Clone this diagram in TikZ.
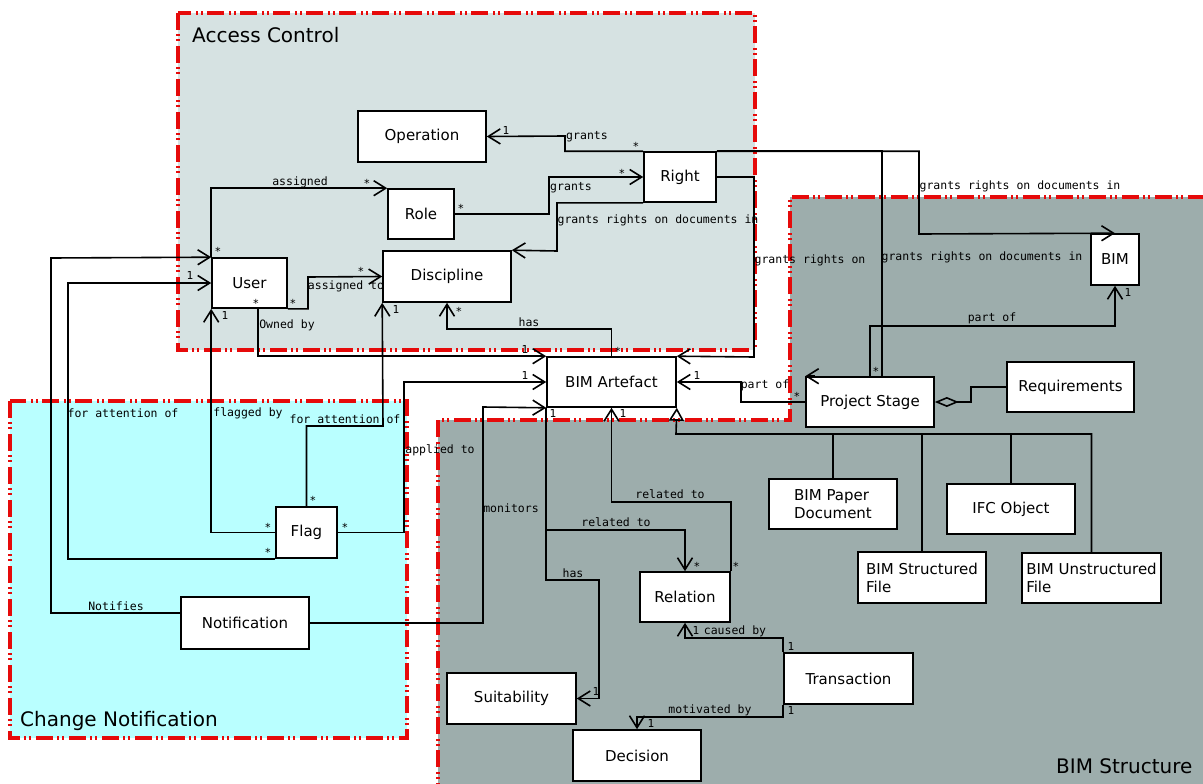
\documentclass[tikz,border=0pt]{standalone}
\usepackage{fontspec}
\setmainfont{DejaVu Sans}
\setmonofont{DejaVu Sans Mono}
\usetikzlibrary{arrows.meta}
\definecolor{regred}{RGB}{230,10,10}
\definecolor{acfill}{RGB}{214,226,226}
\definecolor{cnfill}{RGB}{185,255,255}
\definecolor{bsfill}{RGB}{157,173,172}
\newcommand{\clsfont}{\fontsize{15}{18}\selectfont}
\newcommand{\lblfont}{\ttfamily\fontsize{11.5}{13}\selectfont}
\newcommand{\mulfont}{\ttfamily\fontsize{11}{12}\selectfont}
\newcommand{\regfont}{\fontsize{20}{24}\selectfont}
\tikzset{
  cls/.style={draw, fill=white, line width=1.6pt, minimum width=128pt,
    minimum height=51pt, inner sep=2pt, font=\clsfont},
  lnk/.style={line width=1.6pt},
  arr/.style={lnk, -{Straight Barb[length=12pt,width=15pt]}},
  gen/.style={lnk, {Triangle[open,length=13pt,width=15pt]}-},
  agg/.style={lnk, {Diamond[open,length=24pt,width=10pt]}-},
  lbl/.style={font=\lblfont, inner sep=0pt},
  mul/.style={font=\mulfont, inner sep=0pt},
  region/.style={draw=regred, line width=3.2pt,
    dash pattern=on 17pt off 4pt on 2pt off 3pt on 2pt off 5pt},
  regtitle/.style={anchor=base west, inner sep=0pt, font=\regfont}
}
\begin{document}
\begin{tikzpicture}[x=1pt,y=-1pt]
\useasboundingbox (0,0) rectangle (1203,784);
% packages
\draw[region, fill=acfill] (178,13) rectangle (755,350);
\draw[region, fill=cnfill] (10,401) rectangle (407,738);
\fill[bsfill] (438,800) -- (438,420) -- (790,420) -- (790,197) -- (1220,197) -- (1220,800) -- cycle;
\draw[region] (438,800) -- (438,420) -- (790,420) -- (790,197) -- (1220,197);
\node[regtitle] (actitle) at (192,43) {Access Control};
\node[regtitle] (cntitle) at (20,726) {Change Notification};
\node[regtitle] (bstitle) at (1056,773) {BIM Structure};

% classes
\node[cls] (op) at (422,136.5) {Operation};
\node[cls, minimum width=66pt, minimum height=50pt] (role) at (421,214) {Role};
\node[cls, minimum width=72pt, minimum height=50pt] (right) at (680,177) {Right};
\node[cls, minimum width=75pt, minimum height=50pt] (user) at (249.5,283) {User};
\node[cls] (disc) at (447,276.5) {Discipline};
\node[cls, minimum width=129pt, minimum height=50pt] (art) at (611.5,382) {BIM Artefact};
\node[cls, minimum width=48pt] (bim) at (1115,259.5) {BIM};
\node[cls, minimum height=50pt] (ps) at (870,402) {Project Stage};
\node[cls, minimum width=127pt, minimum height=50pt] (req) at (1070.5,387) {Requirements};
\node[cls, minimum height=50pt, align=left] (paper) at (833,504) {BIM Paper\\Document};
\node[cls, minimum height=50pt] (ifc) at (1011,509) {IFC Object};
\node[cls, align=left] (sfile) at (922,577.5) {BIM Structured\\File};
\node[cls, minimum width=139pt, minimum height=50pt, align=left] (ufile) at (1091.5,578) {BIM Unstructured\\File};
\node[cls, minimum width=129pt] (trans) at (848.5,678.5) {Transaction};
\node[cls, minimum width=90pt, minimum height=50pt] (rel) at (685,597) {Relation};
\node[cls, minimum width=129pt] (suit) at (511.5,698.5) {Suitability};
\node[cls] (dec) at (637,755.5) {Decision};
\node[cls, minimum width=61pt] (flag) at (306.5,532.5) {Flag};
\node[cls, minimum height=52pt] (notif) at (245,623) {Notification};

% access control links
\draw[arr] (right.north west) -| (565,136) -- (op.east);
\draw[arr] (right.north east) -| (919,234) -- (bim.north);
\draw[lnk] (right.north east) -| ([xshift=12pt]ps.north);
\draw[arr] ([xshift=10pt]ps.north west) -- (ps.north west);
\draw[arr] (right.east) -| (754,357) -- (art.north east);
\draw[arr] (right.south west) -| (557,251) -- (disc.north east);
\draw[arr] (role.east) -| (549,177) -- (right.west);
\draw[arr] (user.north west) |- (role.north west);
\draw[arr] (user.south east) -| (308,277) -- (disc.west);
\draw[arr] ([xshift=8.5pt]user.south) |- (art.north west);
\draw[arr] (art.north) |- (447,329) -- (disc.south);

% change notification links
\draw[arr] ([yshift=10pt]notif.west) -| (51,258) -- (user.north west);
\draw[arr] (flag.south west) -| (68,283) -- (user.west);
\draw[arr] (flag.west) -| (user.south west);
\draw[arr] (flag.north) |- (383,426) -- (disc.south west);
\draw[arr] (flag.east) -| (404,382) -- (art.west);
\draw[arr] (notif.east) -| (483,407) -- (art.south west);

% bim structure links
\draw[arr] (ps.west) -| (741,382) -- (art.east);
\draw[arr] (ps.north) |- (1115,326) -- (bim.south);
\draw[agg] (ps.east) -| (971,387) -- (req.west);
\coordinate (genbus) at (676,434);
\draw[gen] (art.south east) -- (genbus) -| (ufile.north);
\foreach \n in {paper,sfile,ifc}
  \draw[lnk] (genbus -| \n.north) -- (\n.north);
\draw[arr] (art.south west) |- (599,580) |- (suit.east);
\draw[arr] (art.south west) |- (685,530) -- (rel.north);
\draw[arr] (rel.north east) |- (611.5,502) -- (art.south);
\draw[arr] (trans.north west) |- (685,638) -- (rel.south);
\draw[arr] (trans.south west) |- (637,717) -- (dec.north);

% association names
\node[lbl] (l1) at (587,137) {grants};
\node[lbl] (l2) at (571,188) {grants};
\node[lbl] (l3) at (658,220) {grants rights on documents in};
\node[lbl] (l4) at (810,260) {grants rights on};
\node[lbl] (l5) at (982,257) {grants rights on documents in};
\node[lbl] (l6) at (1020,186) {grants rights on documents in};
\node[lbl] (l7) at (300,182) {assigned};
\node[lbl] (l8) at (346,286) {assigned to};
\node[lbl] (l9) at (287,325) {Owned by};
\node[lbl] (l10) at (529,322) {has};
\node[lbl] (l11) at (765,385) {part of};
\node[lbl] (l12) at (992,318) {part of};
\node[lbl] (l13) at (116,606) {Notifies};
\node[lbl] (l14) at (123,413) {for attention of};
\node[lbl] (l15) at (248,413) {flagged by};
\node[lbl] (l16) at (345,419) {for attention of};
\node[lbl] (l17) at (440,450) {applied to};
\node[lbl] (l18) at (511,508) {monitors};
\node[lbl] (l19) at (616,522) {related to};
\node[lbl] (l20) at (670,494) {related to};
\node[lbl] (l21) at (573,573) {has};
\node[lbl] (l22) at (735,631) {caused by};
\node[lbl] (l23) at (710,710) {motivated by};

% multiplicities
\foreach \x/\y/\m in {506/130/1, 636/146/*, 461/208/*, 622/173/*, 218/251/*,
    367/183/*, 190/275/1, 268/552/*, 225/315/1, 268/527/*, 313/500/*,
    396/309/1, 345/527/*, 525/375/1, 256/303/*, 525/349/1, 293/303/*,
    361/271/*, 459/311/*, 618/351/*, 697/375/1, 797/396/*, 1128/292/1,
    876/371/*, 553/413/1, 596/691/1, 697/566/*, 736/566/*, 623/413/1,
    791/646/1, 696/630/1, 791/710/1, 651/723/1}
  \node[mul] at (\x,\y) {\m};
\end{tikzpicture}
\end{document}
